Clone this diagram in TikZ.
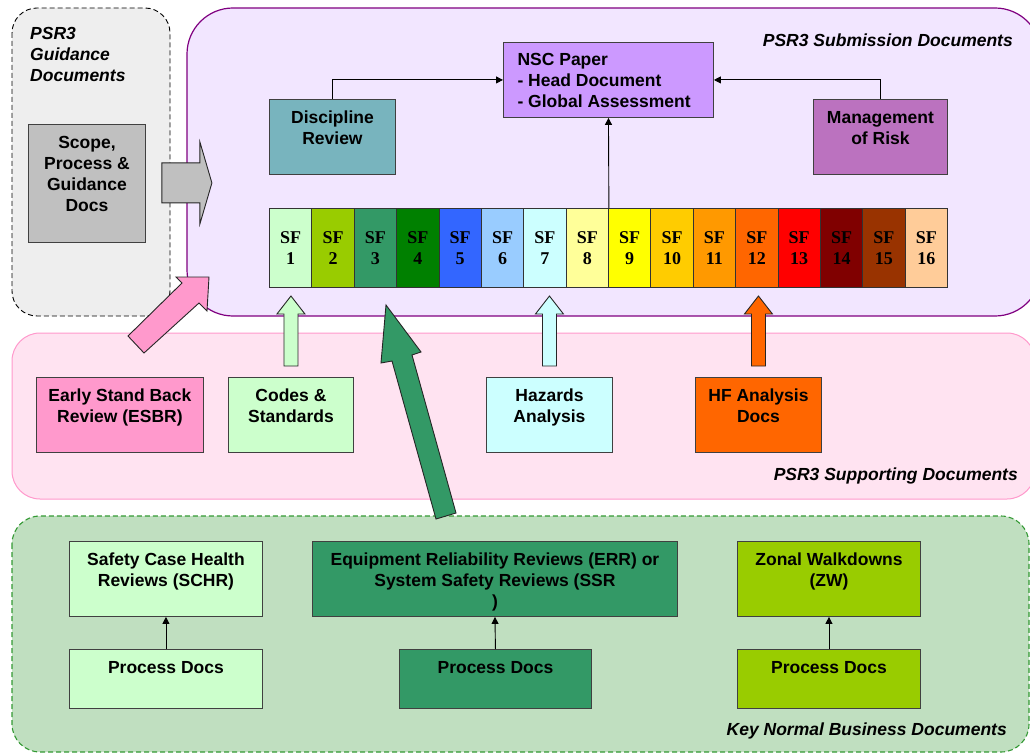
\documentclass[tikz,border=0pt]{standalone}
\usepackage{fontspec}
\setmainfont{Liberation Sans}
\newfontfamily\sfnumfont{Liberation Serif}
\usetikzlibrary{arrows.meta,positioning}

\definecolor{guidegray}{HTML}{EEEEEE}
\definecolor{sublilac}{HTML}{F2E6FF}
\definecolor{subpurple}{HTML}{800080}
\definecolor{supppink}{HTML}{FFE3F1}
\definecolor{suppline}{HTML}{FF99CC}
\definecolor{busgreen}{HTML}{C0DFC0}
\definecolor{busline}{HTML}{339933}
\definecolor{scopegray}{HTML}{C0C0C0}
\definecolor{discblue}{HTML}{78B4BE}
\definecolor{riskpurple}{HTML}{BB72BF}
\definecolor{nscpurple}{HTML}{CC99FF}
\definecolor{esbrpink}{HTML}{FF99CC}
\definecolor{codesgreen}{HTML}{CCFFCC}
\definecolor{hazcyan}{HTML}{CCFFFF}
\definecolor{hforange}{HTML}{FF6600}
\definecolor{errgreen}{HTML}{339966}
\definecolor{zwgreen}{HTML}{99CC00}
\definecolor{sfc1}{HTML}{CCFFCC}
\definecolor{sfc2}{HTML}{99CC00}
\definecolor{sfc3}{HTML}{339966}
\definecolor{sfc4}{HTML}{008000}
\definecolor{sfc5}{HTML}{3366FF}
\definecolor{sfc6}{HTML}{99CCFF}
\definecolor{sfc7}{HTML}{CCFFFF}
\definecolor{sfc8}{HTML}{FFFF99}
\definecolor{sfc9}{HTML}{FFFF00}
\definecolor{sfc10}{HTML}{FFCC00}
\definecolor{sfc11}{HTML}{FF9900}
\definecolor{sfc12}{HTML}{FF6600}
\definecolor{sfc13}{HTML}{FF0000}
\definecolor{sfc14}{HTML}{800000}
\definecolor{sfc15}{HTML}{993300}
\definecolor{sfc16}{HTML}{FFCC99}

\tikzset{
	doc/.style 2 args={draw=black!75, fill=#1, line width=0.9pt, anchor=north west, inner sep=0pt,
		label={[anchor=north, yshift=-8.5pt, align=center, font=\fontsize{17.5}{21}\selectfont\bfseries]north:#2}},
	sfcell/.style={draw=black!80, line width=0.9pt, minimum width=42.375, minimum height=79,
		anchor=north west, inner sep=0pt, align=center, font=\sfnumfont\fontsize{18}{21}\selectfont\bfseries},
	regionlabel/.style={inner sep=0pt, font=\fontsize{17.5}{21}\selectfont\bfseries\itshape},
	link/.style={-{Triangle[length=7pt,width=7pt]}, line width=0.9pt},
	blockarrow/.style={draw=black!85, line width=0.9pt, line join=miter}
}

\begin{document}
\begin{tikzpicture}[x=1pt,y=-1pt]
	\useasboundingbox (0,0) rectangle (1030,754);
	\clip (0,0) rectangle (1030,754);

	% regions
	\draw[fill=guidegray, dash pattern=on 5pt off 3pt, line width=0.9pt, rounded corners=25] (12,8) rectangle (170,316);
	\draw[fill=sublilac, draw=subpurple, line width=1.2pt, rounded corners=46] (187,8) rectangle (1041,316);
	\draw[fill=supppink, draw=suppline, line width=1pt, rounded corners=28] (12,333) rectangle (1035,499);
	\draw[fill=busgreen, draw=busline, dash pattern=on 5pt off 3pt, line width=1.1pt, rounded corners=28] (12,516) rectangle (1029,752);

	\node[regionlabel, anchor=north west, align=left] (guidetitle) at (30,27) {PSR3\\Guidance\\Documents};
	\node[regionlabel, anchor=east] (subtitle) at (1013,40) {PSR3 Submission Documents};
	\node[regionlabel, anchor=east] (supptitle) at (1018,476) {PSR3 Supporting Documents};
	\node[regionlabel, anchor=east] (bustitle) at (1007,731) {Key Normal Business Documents};

	% submission
	\node[doc={scopegray}{Scope,\\Process \&\\Guidance\\Docs}, minimum width=117, minimum height=118] (scope) at (28,124) {};
	\node[doc={discblue}{Discipline\\Review}, minimum width=126, minimum height=75] (disc) at (269,99) {};
	\node[doc={riskpurple}{Management\\of Risk}, minimum width=134, minimum height=75] (risk) at (813,99) {};
	\node[draw=black!75, fill=nscpurple, line width=0.9pt, anchor=north west, inner sep=0pt, minimum width=210, minimum height=75,
		label={[anchor=north west, xshift=11pt, yshift=-8pt, align=left, font=\fontsize{17.5}{21}\selectfont\bfseries]north west:NSC Paper\\- Head Document\\- Global Assessment}] (nsc) at (503,42) {};

	\foreach \i in {1,...,16}
		\node[sfcell, fill=sfc\i] (sf\i) at ({269+(\i-1)*42.375},208) {SF\\\i};

	\draw[link] (disc.north) |- (nsc.west);
	\draw[link] (risk.north) |- (nsc.east);
	\draw[link] (sf8.north east) -- (nsc.south);

	% supporting
	\node[doc={esbrpink}{Early Stand Back\\Review (ESBR)}, minimum width=167, minimum height=75] (esbr) at (36,377) {};
	\node[doc={codesgreen}{Codes \&\\Standards}, minimum width=125, minimum height=75] (codes) at (228,377) {};
	\node[doc={hazcyan}{Hazards\\Analysis}, minimum width=126, minimum height=75] (haz) at (486,377) {};
	\node[doc={hforange}{HF Analysis\\Docs}, minimum width=126, minimum height=75] (hf) at (695,377) {};

	% key normal business
	\node[doc={codesgreen}{Safety Case Health\\Reviews (SCHR)}, minimum width=193, minimum height=75] (schr) at (69,541) {};
	\node[doc={codesgreen}{Process Docs}, minimum width=193, minimum height=59] (pd1) at (69,649) {};
	\node[doc={errgreen}{Equipment Reliability Reviews (ERR) or\\System Safety Reviews (SSR\\)}, minimum width=365, minimum height=75] (err) at (312,541) {};
	\node[doc={errgreen}{Process Docs}, minimum width=192, minimum height=59] (pd2) at (399,649) {};
	\node[doc={zwgreen}{Zonal Walkdowns\\(ZW)}, minimum width=183, minimum height=75] (zw) at (737,541) {};
	\node[doc={zwgreen}{Process Docs}, minimum width=183, minimum height=59] (pd3) at (737,649) {};

	\foreach \a/\b in {pd1/schr,pd2/err,pd3/zw}
		\draw[link] (\a.north) -- (\b.south);

	% block arrows
	\draw[blockarrow, fill=scopegray] ([xshift=16pt,yshift=20.5pt]scope.east) -- ++(38,0) -- ++(0,-21) -- ++(12,41)
		-- ++(-12,41) -- ++(0,-21) -- ++(-38,0) -- cycle;
	\foreach \b/\c in {codes/codesgreen,haz/hazcyan,hf/hforange}
		\draw[blockarrow, fill=\c] ([xshift=-7pt,yshift=11pt]\b.north) -- ++(0,-52) -- ++(-7,0) -- ++(14,-18)
			-- ++(14,18) -- ++(-7,0) -- ++(0,52) -- cycle;
	\draw[blockarrow, fill=esbrpink] (128,336) -- (182,283) -- (176,277) -- (209,277) -- (207,311) -- (199,303) -- (144,353) -- cycle;
	\draw[blockarrow, fill=errgreen] (436,519) -- (392,361) -- (381,363) -- (386,305) -- (421,352) -- (412,355) -- (456,513) -- cycle;
\end{tikzpicture}
\end{document}
